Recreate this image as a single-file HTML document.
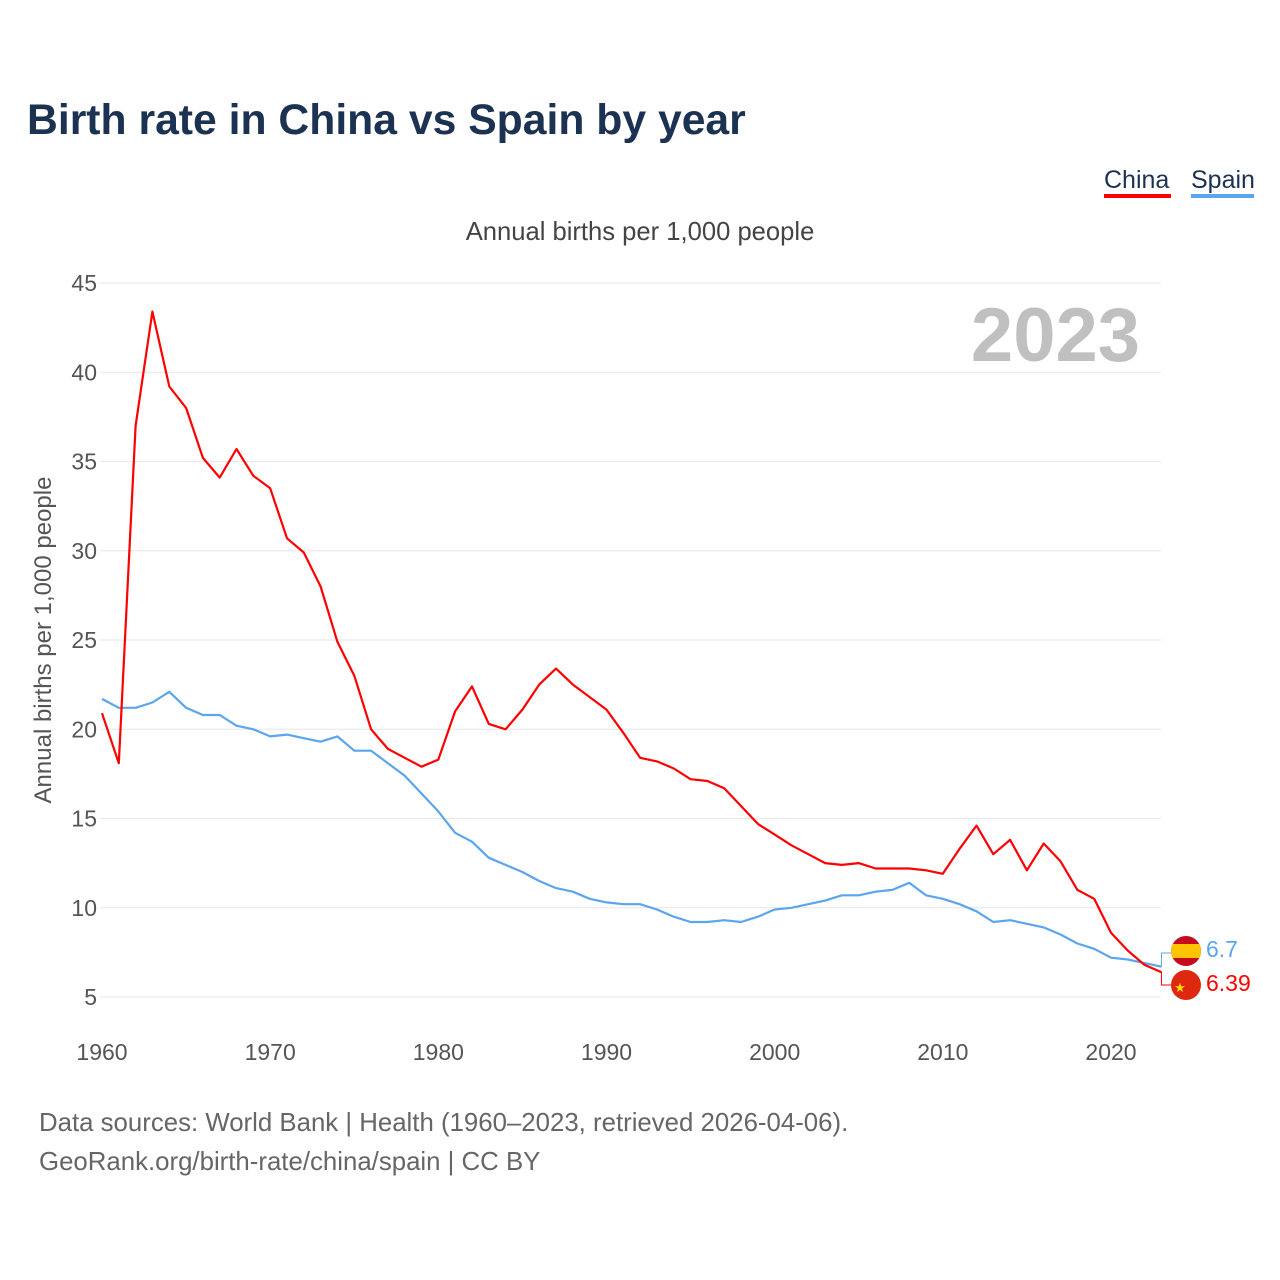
<!DOCTYPE html>
<html><head><meta charset="utf-8">
<style>
body{margin:0;background:#fff;font-family:"Liberation Sans",sans-serif;}
#wrap{position:relative;width:1280px;height:1280px;overflow:hidden;}
</style></head>
<body>
<div id="wrap">
<svg id="chart" width="1280" height="1280" font-family="Liberation Sans, sans-serif"></svg>
</div>
<script>
const years = [];
for (let y = 1960; y <= 2023; y++) years.push(y);
const chinaValues = [20.9,18.1,37.0,43.4,39.2,38.0,35.2,34.1,35.7,34.2,33.5,30.7,29.9,28.0,24.9,23.0,20.0,18.9,18.4,17.9,18.3,21.0,22.4,20.3,20.0,21.1,22.5,23.4,22.5,21.8,21.1,19.8,18.4,18.2,17.8,17.2,17.1,16.7,15.7,14.7,14.1,13.5,13.0,12.5,12.4,12.5,12.2,12.2,12.2,12.1,11.9,13.3,14.6,13.0,13.8,12.1,13.6,12.6,11.0,10.5,8.6,7.6,6.8,6.39];
const spainValues = [21.7,21.2,21.2,21.5,22.1,21.2,20.8,20.8,20.2,20.0,19.6,19.7,19.5,19.3,19.6,18.8,18.8,18.1,17.4,16.4,15.4,14.2,13.7,12.8,12.4,12.0,11.5,11.1,10.9,10.5,10.3,10.2,10.2,9.9,9.5,9.2,9.2,9.3,9.2,9.5,9.9,10.0,10.2,10.4,10.7,10.7,10.9,11.0,11.4,10.7,10.5,10.2,9.8,9.2,9.3,9.1,8.9,8.5,8.0,7.7,7.2,7.1,6.9,6.7];
const yTicks = [5,10,15,20,25,30,35,40,45];
const xTicks = [1960,1970,1980,1990,2000,2010,2020];

const NS = "http://www.w3.org/2000/svg";
const svg = document.getElementById('chart');
function xS(yr){ return 102 + (yr - 1960) * (1009/60); }
function yS(v){ return 997 - (v - 5) * (714/40); }
function el(tag, attrs, parent){ const e = document.createElementNS(NS, tag); for (const k in attrs) e.setAttribute(k, attrs[k]); (parent||svg).appendChild(e); return e; }
function txt(s, attrs){ const t = el('text', attrs); t.textContent = s; return t; }

let t;
t = txt('Birth rate in China vs Spain by year', {x:27,y:134,'font-size':42.7,'font-weight':'bold',fill:'#1c3252'});



t = txt('China', {x:1104,y:188,'font-size':25,fill:'#1c3252'});


let r = el('rect', {x:1104,y:194,width:67,height:4,fill:'#f00'});


t = txt('Spain', {x:1191,y:188,'font-size':25,fill:'#1c3252'});


r = el('rect', {x:1191,y:194,width:63,height:4,fill:'#5aa5ee'});



t = txt('Annual births per 1,000 people', {x:640,y:240,'font-size':25.6,fill:'#444','text-anchor':'middle'});



t = txt('Annual births per 1,000 people', {x:0,y:0,'font-size':24,fill:'#555','text-anchor':'middle',transform:'translate(51,640) rotate(-90)'});



yTicks.forEach(v => {
  const l = el('line', {x1:100,x2:1161,y1:yS(v),y2:yS(v),stroke:'#e6e6e6','stroke-width':1});
  
  
  const tt = txt(String(v), {x:97,y:yS(v)+8,'font-size':23,fill:'#555','text-anchor':'end'});
  
  
});
xTicks.forEach(v => {
  const tt = txt(String(v), {x:xS(v),y:1060,'font-size':23,fill:'#555','text-anchor':'middle'});
  
  
});

t = txt('2023', {x:1140,y:361,'font-size':76,'font-weight':'bold',fill:'#c0c0c0','text-anchor':'end'});



function pathFor(vals){ return vals.map((v,i)=>(i?'L':'M')+xS(years[i]).toFixed(1)+','+yS(v).toFixed(1)).join(''); }
let p = el('path', {d:pathFor(spainValues),fill:'none',stroke:'#5aa5ee','stroke-width':2.2,'stroke-linejoin':'round'});


p = el('path', {d:pathFor(chinaValues),fill:'none',stroke:'#f00','stroke-width':2.2,'stroke-linejoin':'round'});



const lx = xS(2023);
const sEnd = yS(spainValues[spainValues.length-1]), cEnd = yS(chinaValues[chinaValues.length-1]);
let c = el('path', {d:`M${lx},${sEnd} L${lx},953 L1172,953`,fill:'none',stroke:'#5aa5ee','stroke-width':1});


c = el('path', {d:`M${lx},${cEnd} L${lx},985 L1172,985`,fill:'none',stroke:'#f00','stroke-width':1});



const g1 = el('g', {});


const cp = el('clipPath', {id:'cp1'}, g1);
el('circle', {cx:1186,cy:951,r:15}, cp);
el('rect', {x:1171,y:936,width:30,height:30,fill:'#c60b1e','clip-path':'url(#cp1)'}, g1);
el('rect', {x:1171,y:944,width:30,height:14,fill:'#ffc400','clip-path':'url(#cp1)'}, g1);
const g2 = el('g', {});


el('circle', {cx:1186,cy:985,r:15,fill:'#de2910'}, g2);
const st = el('text', {x:1180,y:992,'font-size':13,fill:'#ffde00','text-anchor':'middle'}, g2); st.textContent='★';

t = txt(String(spainValues[spainValues.length-1]), {x:1206,y:957,'font-size':23,fill:'#5aa5ee'});


t = txt(String(chinaValues[chinaValues.length-1]), {x:1206,y:991,'font-size':23,fill:'#f00'});



t = txt('Data sources: World Bank | Health (1960–2023, retrieved 2026-04-06).', {x:39,y:1131,'font-size':25.8,fill:'#666'});


t = txt('GeoRank.org/birth-rate/china/spain | CC BY', {x:39,y:1170,'font-size':25.8,fill:'#666'});


</script>
</body></html>
